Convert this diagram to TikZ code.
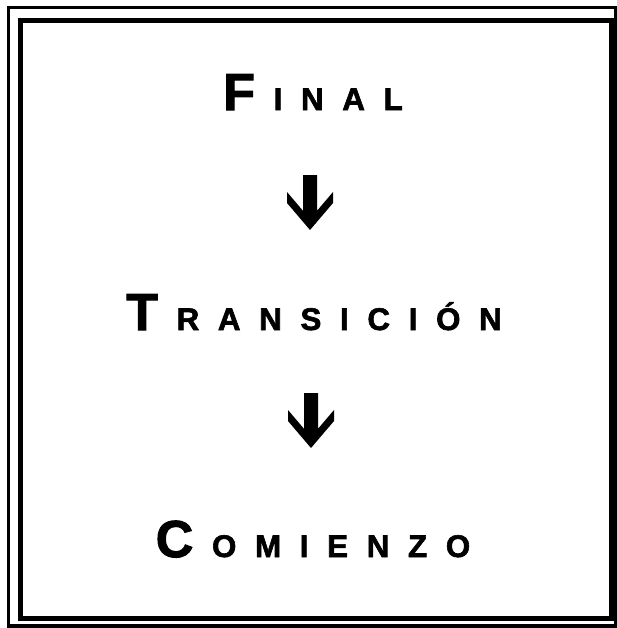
\documentclass[tikz,border=0pt]{standalone}
\usepackage{fontspec}
\usetikzlibrary{calc}
\newfontfamily\lsb{Liberation Sans}[UprightFont=*, BoldFont=* Bold, BoldFeatures={FakeBold=2}]
\newcommand\capsz{\lsb\bfseries\fontsize{39pt}{40pt}\selectfont}
\newcommand\smsz{\lsb\bfseries\fontsize{23.5pt}{25pt}\selectfont}
\newcommand\gp{\kern14pt}
\tikzset{
  word/.style={anchor=base, inner sep=0pt, text=black},
  outerframe/.style={draw=black, line width=2.5pt},
  innerframe/.style={draw=black, line width=3.75pt},
  downarrow/.pic={\fill[black] (-7,0) -- (7,0) -- (7,35.8) -- (23,17) -- (23,28) -- (0,55)
        -- (-23,28) -- (-23,17) -- (-7,35.8) -- cycle;}
}
\begin{document}
\begin{tikzpicture}[x=0.75pt,y=-0.75pt]
\useasboundingbox (0,0) rectangle (617,628);
\draw[outerframe] (8.5,7.5) rectangle (616,626);
\draw[innerframe] (20.5,20.5) rectangle (611,618.5);
\node[word] (final) at (313,110) {{\capsz F}\gp{\smsz I\gp N\gp A\gp L}};
\node[word] (trans) at (314,330) {{\capsz T}\gp{\smsz R\gp A\gp N\gp S\gp I\gp C\gp I\gp Ó\gp N}};
\node[word] (comienzo) at (313,557) {{\capsz C}\gp{\smsz O\gp M\gp I\gp E\gp N\gp Z\gp O}};
\coordinate (a1) at ($(final.base)+(-3,65)$);
\coordinate (a2) at ($(trans.base)+(-3,63)$);
\pic at (a1) {downarrow};
\pic at (a2) {downarrow};
\end{tikzpicture}
\end{document}
